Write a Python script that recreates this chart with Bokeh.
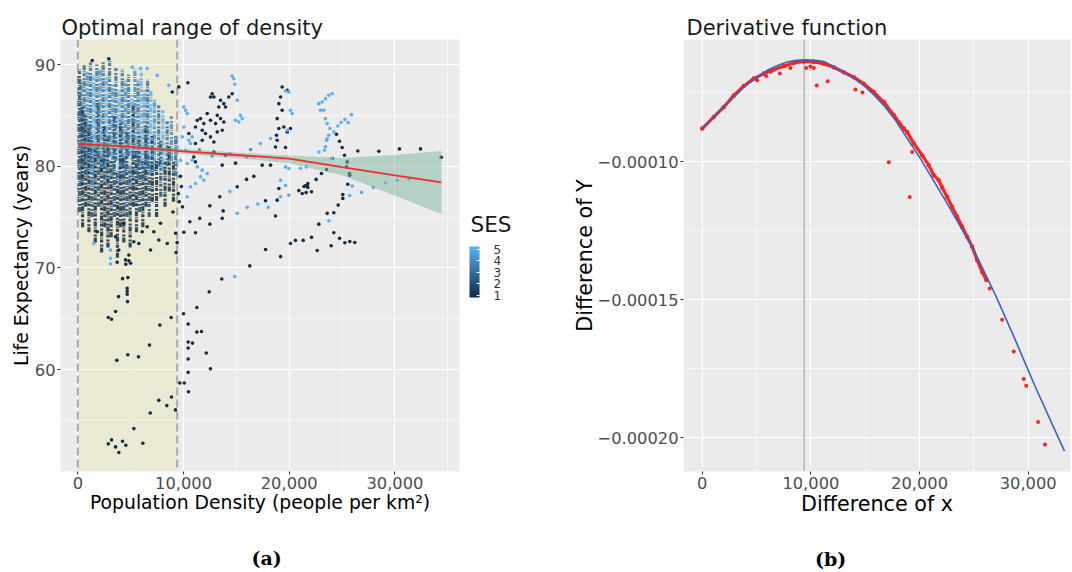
from bokeh.plotting import figure
from bokeh.layouts import row
from bokeh.models import (ColumnDataSource, Range1d, FixedTicker, NumeralTickFormatter,
                          CustomJSTickFormatter, ColorBar, LinearColorMapper, Label, Span,
                          BoxAnnotation, AllLabels, LinearAxis)
from bokeh.transform import linear_cmap
from bokeh.embed import file_html
from bokeh.resources import INLINE

# ------------------------------------------------------------------ panel (a) data
ses_levels = [1, 2, 3, 4, 5]
optimal_range = [0, 9400]

# dense cloud inside the optimal range, read as vertical runs of points
streak_density = [150, 300, 450, 600, 750, 900, 1050, 1200, 1350, 1500, 1650, 1800, 1950, 2100,
                  2250, 2400, 2550, 2700, 2850, 3000, 3150, 3300, 3450, 3600, 3750, 3900, 4050,
                  4200, 4350, 4500, 4650, 4800, 4950, 5100, 5250, 5400, 5550, 5700, 5850, 6000,
                  6150, 6300, 6450, 6600, 6750, 6900, 7050, 7250, 7450, 7650, 7850, 8050, 8250,
                  8450, 8650, 8850, 9050, 9250]
streak_low = [75.5, 78, 74, 80, 76, 79, 73.5, 80.5, 75, 78, 72.5, 81, 76, 79.5,
              71.5, 80, 74, 78.5, 72, 81, 73, 79, 75, 80.5, 71, 78, 74,
              80, 72.5, 79, 75, 81, 72, 78, 76, 81, 73.5, 79, 75.5, 80,
              74, 78.5, 76, 80, 75, 79, 76.5, 79.5, 75, 80, 77, 79.5, 76,
              80, 77.5, 80.5, 76.5, 79]
streak_high = [89.5, 88.5, 86, 90, 85, 89.3, 84, 90.2, 83, 89, 82, 90, 86.5, 89.5,
               81, 90.4, 84, 89, 83, 90.5, 80.5, 88, 85, 89.7, 79.5, 87.5, 84.5,
               89.5, 81, 88.5, 83.5, 89, 80, 87, 86, 89.5, 81.5, 88.5, 83, 89.3,
               80.5, 87.5, 84, 88.5, 81, 87.5, 83, 86.5, 80.5, 86, 82.5, 85.5, 80.5,
               84.5, 82, 85, 80.5, 83]
streak_ses = [2, 3, 1, 3, 1, 4, 1, 3, 2, 5, 1, 3, 2, 4,
              1, 3, 1, 5, 1, 3, 1, 4, 2, 3, 1, 5, 1,
              3, 1, 4, 2, 3, 1, 5, 1, 4, 1, 3, 2, 5,
              1, 4, 1, 3, 2, 5, 1, 4, 1, 3, 2, 5, 1,
              3, 1, 4, 1, 3]

# low-SES (1) points of the lower tail
tail_density = [3720, 4540, 4830, 4230, 4730, 4670, 4670, 4670, 3850, 4700, 3570, 2880, 3190, 7760, 8830,
                10000, 11260, 12430, 13620, 16270, 10440, 11260, 11700, 10440, 10850, 10440, 12150, 6780,
                4730, 5740, 3690, 10440, 12550, 10440, 9650, 10070, 10470, 7660, 8860, 8420, 9240, 6850,
                5300, 2880, 3190, 3570, 3880, 4230, 4540, 6150]
tail_life = [70.55, 70.35, 70.7, 68.94, 69.04, 68.0, 67.7, 67.4, 67.17, 66.68, 65.7, 65.11, 64.95, 64.37, 65.11,
             65.48, 66.1, 67.64, 68.91, 70.19, 64.47, 63.68, 63.74, 62.7, 62.6, 62.11, 61.62, 62.4,
             61.45, 61.26, 60.9, 61.03, 60.08, 59.72, 58.67, 58.67, 57.82, 56.97, 57.3, 56.45, 56.03, 55.73,
             54.19, 52.69, 53.08, 52.39, 51.84, 52.94, 52.55, 52.75]

# low-SES (1) points on the edge of the dense cloud
edge_density = [1840, 3570, 3880, 4510, 4830, 5300, 5770, 6880, 7820, 8460, 7660, 6090, 4990, 4350,
                6560, 7190, 2930, 1360, 8930, 9250, 9400, 9300, 9000, 9600, 9800, 9700, 9500, 9900]
edge_life = [73.55, 73.06, 71.76, 70.78, 71.27, 72.57, 72.4, 71.76, 74.38, 72.4, 72.74, 73.55, 70.45, 74.38,
             74.04, 73.55, 90.57, 90.4, 87.3, 73.4, 72.5, 71.5, 75.5, 76.5, 78.0, 79.0, 77.3, 76.0]

# low-SES (1) points beyond the optimal range
right_dark_density = [10410, 9550, 12710, 12550, 13500, 13810, 14600, 14280, 13970, 13500, 13190, 12550,
                      11920, 11300, 11130, 11770, 12080, 12550, 13190, 13660, 12870, 11770, 11130, 10500,
                      13810, 13030, 12240, 11610, 13340, 10970, 11130, 12870, 13970, 12870,
                      19330, 19810, 19180, 19020, 19330, 18860, 19490, 19810, 18860, 18700, 19650, 19020,
                      20120, 18800,
                      13660, 14920, 17440, 18230, 16650, 15960, 15080, 13430, 12490, 11540, 10600, 11130,
                      10030, 13660, 12490, 13750, 17760, 18700, 18860, 19020, 20120, 20590, 21320, 17760,
                      19180, 20910, 21400, 21700, 21600,
                      24470, 24760, 25010, 25230, 25490, 25420, 25700, 25730, 25540, 25070, 25070, 24630,
                      24220, 23590, 22800, 24220, 24760, 25260, 25730, 26200, 23970, 22650, 22110,
                      26490, 28480, 30430, 32420, 34380, 23050, 23530, 22550, 21760, 21540, 21760, 22110,
                      21230, 24090]
right_dark_life = [88.2, 87.8, 87.13, 86.8, 86.48, 86.15, 87.13, 86.8, 85.82, 84.68, 85.0, 84.51,
                   84.19, 84.51, 83.86, 83.53, 83.21, 82.88, 83.37, 83.53, 82.38, 82.55, 82.23, 83.21,
                   84.35, 84.19, 85.17, 84.68, 85.82, 80.91, 80.42, 81.4, 81.08, 86.8,
                   87.78, 87.46, 86.8, 86.15, 85.5, 84.68, 83.86, 83.37, 82.55, 81.89, 81.83, 83.7,
                   83.7, 83.04,
                   80.1, 80.3, 80.1, 80.1, 79.0, 78.7, 77.97, 77.0, 76.1, 74.87, 74.53, 73.45,
                   73.5, 74.87, 74.3, 75.6, 76.6, 75.1, 76.66, 77.8, 72.4, 72.7, 72.7, 71.8,
                   71.1, 77.6, 78.0, 78.1, 77.4,
                   83.14, 82.45, 81.83, 81.08, 80.42, 79.93, 79.28, 79.1, 78.23, 77.22, 76.83, 76.17,
                   75.42, 75.36, 74.3, 73.45, 72.9, 72.47, 72.6, 72.5, 72.18, 71.7, 73.0,
                   81.5, 81.47, 81.7, 81.7, 80.88, 79.28, 79.68, 78.7, 78.3, 78.07, 77.9, 77.48,
                   77.32, 80.75]

# high-SES (5) points
light_density = [3090, 14850, 5150, 5930, 6560, 7510, 8610, 1510, 3090, 3090,
                 14600, 14760, 14850, 15080, 14920, 15390, 15550, 15230,
                 10030, 10190, 10350, 10030, 10500, 10660, 10190, 9720, 10350, 10820, 11300,
                 11770, 12240, 11610, 11920, 11130, 10660, 10350, 10820, 9880, 9400,
                 19650, 19960, 20120, 20280, 19810, 17280, 18230, 15080, 16030, 17030, 18010,
                 19180, 19180, 19650, 19960, 14380, 21070, 19960, 19650,
                 22800, 23120, 23430, 23740, 24070, 22960, 23270, 23430, 23590, 23840, 23750,
                 23590, 23530, 23430, 23340, 22810, 24220, 24600, 24920, 25260, 25580, 25890,
                 27950, 29110, 30220, 31310, 26840, 25960, 25730, 24000, 21610, 23750]
light_life = [70.38, 69.14, 89.74, 89.6, 89.6, 88.93, 87.95, 72.4, 71.76, 70.94,
              88.86, 88.6, 88.05, 86.48, 84.51, 85.0, 84.68, 84.35,
              85.82, 85.5, 85.17, 83.86, 82.55, 82.23, 81.57, 80.59, 80.26, 80.59, 79.93,
              79.61, 79.28, 78.95, 78.63, 78.3, 77.97, 76.99, 82.88, 82.88, 81.89,
              87.4, 87.3, 85.5, 85.17, 83.53, 82.23, 82.72, 75.36, 75.95, 76.27, 75.95,
              76.99, 78.6, 78.1, 77.15, 77.5, 79.8, 79.77, 79.93,
              86.15, 86.31, 86.64, 86.97, 87.13, 85.5, 85.5, 84.68, 84.19, 83.7, 83.04,
              82.7, 82.55, 81.9, 81.57, 81.4, 83.37, 83.96, 84.29, 84.6, 84.29, 85.07,
              77.9, 78.36, 78.63, 78.72, 77.42, 78.04, 77.12, 80.75, 79.93, 74.63]

# SES 4 points
mid_density = [16340, 15960, 14400, 12700, 11500]
mid_life = [81.64, 80.91, 81.2, 81.0, 81.6]

# smoothed fit with its confidence band
smooth_density = [0, 5000, 10000, 15000, 20000, 25000, 30000, 34400]
smooth_life = [82.2, 81.9, 81.45, 81.1, 80.75, 79.9, 79.1, 78.4]
smooth_upper = [82.5, 82.1, 81.7, 81.35, 81.05, 80.8, 81.1, 81.5]
smooth_lower = [81.9, 81.65, 81.2, 80.8, 80.3, 79.1, 77.1, 75.3]

# ------------------------------------------------------------------ panel (b) data
deriv_x = [0, 1000, 1990, 3000, 3830, 5000, 5980, 7000, 7820, 8500, 9350, 10200, 11190, 12000,
           13030, 14000, 14870, 15800, 16710, 17800, 19160, 20080, 22540, 24990, 27055, 28810,
           30630, 32300, 33340]
deriv_y = [-8.79e-5, -8.40e-5, -8.01e-5, -7.62e-5, -7.29e-5, -6.95e-5, -6.68e-5, -6.50e-5, -6.38e-5,
           -6.33e-5, -6.30e-5, -6.31e-5, -6.36e-5, -6.52e-5, -6.75e-5, -6.98e-5, -7.23e-5, -7.57e-5,
           -7.95e-5, -8.50e-5, -9.33e-5, -9.88e-5, -1.150e-4, -1.319e-4, -1.488e-4, -1.645e-4,
           -1.813e-4, -1.958e-4, -2.048e-4]

obs_x = [0, 1070, 1990, 2910, 3830, 4750, 5670, 6590, 7510, 8430, 9350, 10270, 11190, 12110, 13030,
         13950, 14870, 15790, 16710, 17630, 18550, 18860, 19470, 20240, 20850, 21310, 21770, 22080,
         22540, 23000, 23460, 23920, 24380, 24840, 25300, 25760, 26150]
obs_y = [-8.79e-5, -8.37e-5, -8.01e-5, -7.59e-5, -7.25e-5, -6.98e-5, -6.80e-5, -6.65e-5, -6.53e-5,
         -6.41e-5, -6.36e-5, -6.38e-5, -6.44e-5, -6.57e-5, -6.75e-5, -6.93e-5, -7.17e-5, -7.47e-5,
         -7.83e-5, -8.31e-5, -8.79e-5, -8.92e-5, -9.33e-5, -9.76e-5, -1.012e-4, -1.048e-4, -1.066e-4,
         -1.093e-4, -1.127e-4, -1.163e-4, -1.199e-4, -1.235e-4, -1.271e-4, -1.307e-4, -1.355e-4,
         -1.398e-4, -1.428e-4]

outlier_x = [5060, 5890, 6280, 7140, 8120, 9570, 9960, 10270, 10540, 11550, 14100, 14750, 17170,
             19100, 19320, 26460, 27600, 28670, 29590, 29810, 30910, 31550]
outlier_y = [-7.04e-5, -6.89e-5, -6.73e-5, -6.80e-5, -6.60e-5, -6.60e-5, -6.54e-5, -6.60e-5, -7.23e-5,
             -7.08e-5, -7.38e-5, -7.48e-5, -1.001e-4, -1.127e-4, -9.64e-5, -1.459e-4, -1.572e-4,
             -1.687e-4, -1.787e-4, -1.811e-4, -1.942e-4, -2.024e-4]

optimum_x = 9380

# ------------------------------------------------------------------ styling helpers
FONT = "DejaVu Sans"
LOW_COLOR, HIGH_COLOR = "#132B43", "#56B1F7"
NBSP = "\u00a0"


def gradient(c1, c2, n):
    a = [int(c1[i:i + 2], 16) for i in (1, 3, 5)]
    b = [int(c2[i:i + 2], 16) for i in (1, 3, 5)]
    out = []
    for k in range(n):
        t = k / (n - 1)
        out.append("#%02x%02x%02x" % tuple(round(a[j] + (b[j] - a[j]) * t) for j in range(3)))
    return out


ses_palette = gradient(LOW_COLOR, HIGH_COLOR, 64)

H = 572
TOP, BOTTOM = 39, 100


def style(p, tick_size, label_size, xticks, xminor, yticks, yminor):
    p.xaxis.ticker = FixedTicker(ticks=xticks, minor_ticks=xminor)
    p.yaxis.ticker = FixedTicker(ticks=yticks, minor_ticks=yminor)
    p.xgrid.ticker = p.xaxis.ticker
    p.ygrid.ticker = p.yaxis.ticker
    for g in (p.xgrid, p.ygrid):
        g.grid_line_color = "white"
        g.grid_line_width = 1.2
        g.minor_grid_line_color = "white"
        g.minor_grid_line_width = 0.6
    for ax in (p.xaxis, p.yaxis):
        ax.axis_line_color = None
        ax.major_tick_line_color = "#333333"
        ax.major_tick_out = 3
        ax.major_tick_in = 0
        ax.minor_tick_line_color = None
        ax.major_label_text_font = FONT
        ax.major_label_text_font_size = tick_size
        ax.major_label_text_color = "#4D4D4D"
        ax.axis_label_text_font = FONT
        ax.axis_label_text_font_size = label_size
        ax.axis_label_text_font_style = "normal"
        ax.axis_label_text_color = "black"
        ax.major_label_standoff = 1
    p.title.text_font = FONT
    p.title.text_font_size = "21px"
    p.title.text_font_style = "normal"
    p.title.text_color = "#1A1A1A"
    p.title.align = "left"
    p.title.standoff = 0


def caption(p, text, standoff):
    ax = LinearAxis(ticker=FixedTicker(ticks=[]), axis_label=text,
                    axis_line_color=None, major_tick_line_color=None, minor_tick_line_color=None,
                    major_label_text_font_size="0px", major_tick_out=0, major_label_standoff=0,
                    axis_label_standoff=standoff, axis_label_text_font="DejaVu Serif",
                    axis_label_text_font_size="19px", axis_label_text_font_style="bold",
                    axis_label_text_color="black")
    p.add_layout(ax, "below")


# ------------------------------------------------------------------ panel (a)
pa = figure(width=462, height=H, x_range=Range1d(-1640, 36110), y_range=Range1d(49.97, 92.46),
            output_backend="svg", toolbar_location=None, title="Optimal range of density",
            min_border_left=60, min_border_right=3, min_border_top=TOP, min_border_bottom=BOTTOM,
            background_fill_color="#EBEBEB", border_fill_color="white", outline_line_color=None,
            x_axis_label="Population Density (people per km\u00b2)", y_axis_label="Life Expectancy (years)")
style(pa, "16.3px", "18.8px", [0, 10000, 20000, 30000], [-5000, 5000, 15000, 25000, 35000],
      [60, 70, 80, 90], [50, 55, 65, 75, 85])
pa.xaxis.formatter = NumeralTickFormatter(format="0,0")
pa.xaxis.axis_label_standoff = 0
pa.yaxis.axis_label_standoff = 0
pa.title.offset = 1

pa.add_layout(BoxAnnotation(left=optimal_range[0], right=optimal_range[1], fill_color="#E8E39A",
                            fill_alpha=0.3, line_color=None, level="underlay"))
for loc in optimal_range:
    pa.add_layout(Span(location=loc, dimension="height", line_color="#A9A9A9", line_width=2,
                       line_dash="8 4", level="underlay"))

streaks = ColumnDataSource(dict(x=streak_density, lo=streak_low, hi=streak_high, ses=streak_ses))
pa.segment(x0="x", y0="lo", x1="x", y1="hi", source=streaks, line_width=3.2, line_alpha=0.85,
           line_dash="5 1 2 2 3 1 1 1", line_color=linear_cmap("ses", ses_palette, 1, 5))

pts_x = tail_density + edge_density + right_dark_density + light_density + mid_density
pts_y = tail_life + edge_life + right_dark_life + light_life + mid_life
pts_s = ([1] * len(tail_density) + [1] * len(edge_density) + [1] * len(right_dark_density)
         + [5] * len(light_density) + [4] * len(mid_density))
pts = ColumnDataSource(dict(x=pts_x, y=pts_y, ses=pts_s))
pa.scatter("x", "y", source=pts, size=3.6, line_color=None,
           fill_color=linear_cmap("ses", ses_palette, 1, 5))

pa.varea(x=smooth_density, y1=smooth_lower, y2=smooth_upper, fill_color="#7FB59F", fill_alpha=0.5)
pa.line(smooth_density, smooth_life, line_color="#F22B2B", line_width=1.8)
caption(pa, NBSP * 2 + "(a)", 31)

# ------------------------------------------------------------------ SES legend (same frame geometry)
pl = figure(width=98, height=H, x_range=Range1d(0, 98), y_range=Range1d(0, 433),
            output_backend="svg", toolbar_location=None, x_axis_type=None, y_axis_type=None,
            min_border_left=0, min_border_right=0, min_border_top=TOP, min_border_bottom=BOTTOM,
            outline_line_color=None, background_fill_color="white", border_fill_color="white")
pl.grid.visible = False
pl.add_layout(Label(x=8, y=248, text="SES", text_align="left", text_baseline="alphabetic",
                    text_font=FONT, text_font_size="21.5px", text_color="#1A1A1A"))
cb = ColorBar(color_mapper=LinearColorMapper(palette=ses_palette, low=0.8, high=5.25),
              ticker=FixedTicker(ticks=ses_levels), orientation="vertical", width=10, height=51,
              location=(7, 174), margin=0, padding=0, title=None,
              major_label_text_font=FONT, major_label_text_font_size="12px",
              major_label_text_color="#333333", label_standoff=14, major_label_policy=AllLabels(),
              major_tick_line_color="white", major_tick_in=3, major_tick_out=0,
              bar_line_color=None, border_line_color=None, background_fill_color=None)
pl.add_layout(cb, "center")

# ------------------------------------------------------------------ panel (b)
pb = figure(width=512, height=H, x_range=Range1d(-1721, 33892), y_range=Range1d(-2.1218e-4, -5.564e-5),
            output_backend="svg", toolbar_location=None, title="Derivative function",
            min_border_left=123, min_border_right=2, min_border_top=TOP, min_border_bottom=BOTTOM,
            background_fill_color="#EBEBEB", border_fill_color="white", outline_line_color=None,
            x_axis_label="Difference of x", y_axis_label="Difference of Y")
style(pb, "16.3px", "20.7px", [0, 10000, 20000, 30000], [-5000, 5000, 15000, 25000, 35000],
      [-2e-4, -1.5e-4, -1e-4], [-2.25e-4, -1.75e-4, -1.25e-4, -0.75e-4])
pb.xaxis.formatter = NumeralTickFormatter(format="0,0")
pb.yaxis.formatter = CustomJSTickFormatter(code="return (tick < 0 ? '\\u2212' : '') + Math.abs(tick).toFixed(5);")
pb.xaxis.axis_label_standoff = 0
pb.yaxis.axis_label_standoff = -2
pb.title.offset = 3

pb.add_layout(Span(location=optimum_x, dimension="height", line_color="#A8A8A8", line_width=1.2,
                   level="underlay"))
pb.line(obs_x, obs_y, line_color="#FF2020", line_width=3.2)
pb.scatter(obs_x, obs_y, size=4.5, line_color=None, fill_color="#FF2020")
pb.scatter(outlier_x, outlier_y, size=4, line_color=None, fill_color="#FF2020")
pb.line(deriv_x, deriv_y, line_color="#3D62BE", line_width=1.6)
caption(pb, "(b)" + NBSP * 14, 29)

layout = row(pa, pl, pb)
open("out.html", "w").write(file_html(layout, INLINE))
